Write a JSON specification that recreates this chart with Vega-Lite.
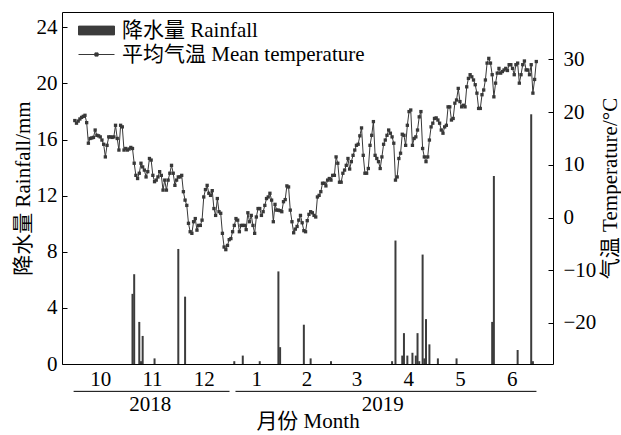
{
"$schema": "https://vega.github.io/schema/vega-lite/v6.json",
"width": 491, "height": 352,
"autosize": {"type": "none"},
"padding": {"left": 62, "top": 12, "right": 68, "bottom": 71},
"config": {
  "view": {"stroke": "#000", "strokeWidth": 1},
  "font": "Liberation Serif, Noto Sans CJK SC",
  "axis": {"labelFont": "Liberation Serif", "labelFontSize": 21, "labelColor": "#000", "titleFont": "Liberation Serif, Noto Sans CJK SC", "titleFontSize": 21, "titleFontWeight": "normal", "titleColor": "#000", "tickColor": "#000", "domain": false, "grid": false}
},
"datasets": {
"temp": [
{"day":0,"temp":18.4},{"day":1,"temp":17.9},{"day":2,"temp":18.3},{"day":3,"temp":18.7},{"day":4,"temp":19.0},{"day":5,"temp":19.2},{"day":6,"temp":19.4},{"day":7,"temp":18.0},{"day":8,"temp":14.1},{"day":9,"temp":15.0},
{"day":10,"temp":15.1},{"day":11,"temp":15.2},{"day":12,"temp":16.6},{"day":13,"temp":15.6},{"day":14,"temp":15.5},{"day":15,"temp":15.3},{"day":16,"temp":14.7},{"day":17,"temp":13.9},{"day":18,"temp":11.5},{"day":19,"temp":13.7},
{"day":20,"temp":15.3},{"day":21,"temp":15.3},{"day":22,"temp":15.2},{"day":23,"temp":15.3},{"day":24,"temp":17.5},{"day":25,"temp":15.0},{"day":26,"temp":12.8},{"day":27,"temp":17.5},{"day":28,"temp":17.2},{"day":29,"temp":12.8},
{"day":30,"temp":13.1},{"day":31,"temp":12.8},{"day":32,"temp":13.0},{"day":33,"temp":13.3},{"day":34,"temp":13.1},{"day":35,"temp":10.3},{"day":36,"temp":8.0},{"day":37,"temp":7.4},{"day":38,"temp":8.4},{"day":39,"temp":10.3},
{"day":40,"temp":9.6},{"day":41,"temp":9.0},{"day":42,"temp":7.7},{"day":43,"temp":8.7},{"day":44,"temp":11.2},{"day":45,"temp":10.9},{"day":46,"temp":8.0},{"day":47,"temp":6.8},{"day":48,"temp":7.1},{"day":49,"temp":7.7},
{"day":50,"temp":8.7},{"day":51,"temp":8.0},{"day":52,"temp":5.2},{"day":53,"temp":7.1},{"day":54,"temp":5.2},{"day":55,"temp":7.1},{"day":56,"temp":8.4},{"day":57,"temp":9.9},{"day":58,"temp":8.4},{"day":59,"temp":6.1},
{"day":60,"temp":7.1},{"day":61,"temp":7.7},{"day":62,"temp":7.7},{"day":63,"temp":8.0},{"day":64,"temp":4.9},{"day":65,"temp":3.3},{"day":66,"temp":2.3},{"day":67,"temp":-1.1},{"day":68,"temp":-2.7},{"day":69,"temp":-3.0},
{"day":70,"temp":-0.8},{"day":71,"temp":-0.2},{"day":72,"temp":-2.4},{"day":73,"temp":-1.5},{"day":74,"temp":-1.5},{"day":75,"temp":-0.5},{"day":76,"temp":3.9},{"day":77,"temp":5.3},{"day":78,"temp":6.1},{"day":79,"temp":4.6},
{"day":80,"temp":4.2},{"day":81,"temp":5.1},{"day":82,"temp":1.7},{"day":83,"temp":0.4},{"day":84,"temp":3.6},{"day":85,"temp":1.1},{"day":86,"temp":0.8},{"day":87,"temp":-3.0},{"day":88,"temp":-5.6},{"day":89,"temp":-6.1},
{"day":90,"temp":-5.3},{"day":91,"temp":-4.2},{"day":92,"temp":-4.0},{"day":93,"temp":-2.7},{"day":94,"temp":-1.5},{"day":95,"temp":-0.2},{"day":96,"temp":-0.5},{"day":97,"temp":-2.7},{"day":98,"temp":-1.5},{"day":99,"temp":-1.5},
{"day":100,"temp":-1.5},{"day":101,"temp":-2.3},{"day":102,"temp":0.9},{"day":103,"temp":-0.8},{"day":104,"temp":0.4},{"day":105,"temp":-1.5},{"day":106,"temp":-3.0},{"day":107,"temp":0.1},{"day":108,"temp":1.7},{"day":109,"temp":1.7},
{"day":110,"temp":0.4},{"day":111,"temp":1.1},{"day":112,"temp":2.3},{"day":113,"temp":3.6},{"day":114,"temp":3.9},{"day":115,"temp":4.6},{"day":116,"temp":3.3},{"day":117,"temp":-0.8},{"day":118,"temp":2.5},{"day":119,"temp":1.4},
{"day":120,"temp":1.4},{"day":121,"temp":1.3},{"day":122,"temp":1.1},{"day":123,"temp":3.0},{"day":124,"temp":3.4},{"day":125,"temp":6.0},{"day":126,"temp":5.8},{"day":127,"temp":1.4},{"day":128,"temp":-0.8},{"day":129,"temp":-2.9},
{"day":130,"temp":-2.2},{"day":131,"temp":-1.7},{"day":132,"temp":-0.5},{"day":133,"temp":0.4},{"day":134,"temp":-1.0},{"day":135,"temp":-2.5},{"day":136,"temp":-2.7},{"day":137,"temp":-0.6},{"day":138,"temp":0.6},{"day":139,"temp":1.1},
{"day":140,"temp":0.9},{"day":141,"temp":0.4},{"day":142,"temp":0.1},{"day":143,"temp":3.9},{"day":144,"temp":4.2},{"day":145,"temp":4.9},{"day":146,"temp":6.5},{"day":147,"temp":6.5},{"day":148,"temp":6.0},{"day":149,"temp":7.1},
{"day":150,"temp":7.4},{"day":151,"temp":7.1},{"day":152,"temp":8.0},{"day":153,"temp":8.0},{"day":154,"temp":11.5},{"day":155,"temp":10.3},{"day":156,"temp":6.7},{"day":157,"temp":6.7},{"day":158,"temp":8.4},{"day":159,"temp":9.0},
{"day":160,"temp":9.9},{"day":161,"temp":11.2},{"day":162,"temp":9.2},{"day":163,"temp":10.6},{"day":164,"temp":11.8},{"day":165,"temp":12.8},{"day":166,"temp":13.7},{"day":167,"temp":13.9},{"day":168,"temp":15.5},{"day":169,"temp":17.0},
{"day":170,"temp":11.8},{"day":171,"temp":8.4},{"day":172,"temp":8.4},{"day":173,"temp":9.3},{"day":174,"temp":13.7},{"day":175,"temp":15.6},{"day":176,"temp":18.2},{"day":177,"temp":11.8},{"day":178,"temp":11.2},{"day":179,"temp":10.6},
{"day":180,"temp":9.3},{"day":181,"temp":11.5},{"day":182,"temp":13.9},{"day":183,"temp":14.7},{"day":184,"temp":15.6},{"day":185,"temp":16.6},{"day":186,"temp":16.0},{"day":187,"temp":15.3},{"day":188,"temp":14.1},{"day":189,"temp":7.1},
{"day":190,"temp":7.7},{"day":191,"temp":11.2},{"day":192,"temp":12.2},{"day":193,"temp":15.8},{"day":194,"temp":15.6},{"day":195,"temp":13.7},{"day":196,"temp":17.5},{"day":197,"temp":20.1},{"day":198,"temp":20.4},{"day":199,"temp":13.7},
{"day":200,"temp":15.0},{"day":201,"temp":15.3},{"day":202,"temp":16.6},{"day":203,"temp":19.1},{"day":204,"temp":20.1},{"day":205,"temp":13.1},{"day":206,"temp":11.5},{"day":207,"temp":10.6},{"day":208,"temp":11.5},{"day":209,"temp":14.7},
{"day":210,"temp":17.2},{"day":211,"temp":17.9},{"day":212,"temp":18.8},{"day":213,"temp":18.9},{"day":214,"temp":18.5},{"day":215,"temp":17.9},{"day":216,"temp":16.6},{"day":217,"temp":16.0},{"day":218,"temp":17.2},{"day":219,"temp":17.5},
{"day":220,"temp":21.0},{"day":221,"temp":21.0},{"day":222,"temp":18.5},{"day":223,"temp":18.8},{"day":224,"temp":21.7},{"day":225,"temp":22.3},{"day":226,"temp":24.5},{"day":227,"temp":22.0},{"day":228,"temp":21.0},{"day":229,"temp":21.3},
{"day":230,"temp":21.0},{"day":231,"temp":24.8},{"day":232,"temp":26.4},{"day":233,"temp":27.1},{"day":234,"temp":26.7},{"day":235,"temp":26.1},{"day":236,"temp":25.2},{"day":237,"temp":23.6},{"day":238,"temp":20.7},{"day":239,"temp":20.7},
{"day":240,"temp":23.3},{"day":241,"temp":24.2},{"day":242,"temp":26.1},{"day":243,"temp":29.3},{"day":244,"temp":30.2},{"day":245,"temp":29.3},{"day":246,"temp":27.1},{"day":247,"temp":22.9},{"day":248,"temp":25.5},{"day":249,"temp":27.4},
{"day":250,"temp":28.3},{"day":251,"temp":27.4},{"day":252,"temp":27.7},{"day":253,"temp":28.0},{"day":254,"temp":28.3},{"day":255,"temp":27.9},{"day":256,"temp":29.0},{"day":257,"temp":29.0},{"day":258,"temp":28.3},{"day":259,"temp":27.1},
{"day":260,"temp":29.0},{"day":261,"temp":29.3},{"day":262,"temp":25.5},{"day":263,"temp":27.1},{"day":264,"temp":29.0},{"day":265,"temp":29.7},{"day":266,"temp":28.0},{"day":267,"temp":28.0},{"day":268,"temp":27.1},{"day":269,"temp":29.0},
{"day":270,"temp":23.6},{"day":271,"temp":26.2},{"day":272,"temp":29.6}
],
"rain": [
{"day":34,"rain":5.0},{"day":35,"rain":6.4},{"day":38,"rain":3.0},{"day":39,"rain":0.2},{"day":40,"rain":2.0},{"day":47,"rain":0.4},{"day":61,"rain":8.2},{"day":65,"rain":4.8},
{"day":94,"rain":0.2},{"day":99,"rain":0.6},{"day":109,"rain":0.2},{"day":120,"rain":6.6},{"day":121,"rain":1.2},{"day":135,"rain":2.8},{"day":139,"rain":0.4},{"day":151,"rain":0.2},
{"day":187,"rain":0.2},{"day":189,"rain":8.8},{"day":193,"rain":0.6},{"day":194,"rain":2.2},{"day":196,"rain":0.6},{"day":199,"rain":0.8},{"day":201,"rain":0.6},{"day":202,"rain":2.2},{"day":203,"rain":0.2},
{"day":205,"rain":7.8},{"day":206,"rain":0.4},{"day":207,"rain":3.2},{"day":209,"rain":1.4},{"day":214,"rain":0.4},{"day":225,"rain":0.4},{"day":246,"rain":3.0},{"day":247,"rain":13.4},{"day":261,"rain":1.0},{"day":269,"rain":17.8},{"day":270,"rain":0.2}
],
"years": [
{"year":"2018","start":-0.7,"end":91.2,"mid":44.5},
{"year":"2019","start":94.7,"end":272.1,"mid":181.5}
]
},
"layer": [
 {"layer": [
   {"data": {"name": "rain"},
    "mark": {"type": "bar", "size": 2, "orient": "vertical"},
    "encoding": {
      "x": {"field": "day", "type": "quantitative", "title": "月份 Month", "scale": {"domain": [-4.6, 278.9], "nice": false, "zero": false},
            "axis": {"values": [15, 45.5, 76, 107, 136.5, 166, 196.5, 227, 257.5], "labelExpr": "['10','11','12','1','2','3','4','5','6'][indexof([15,45.5,76,107,136.5,166,196.5,227,257.5], datum.value)]", "ticks": false, "labelPadding": 4, "titlePadding": 21, "labelFlush": false}},
      "y": {"field": "rain", "type": "quantitative", "title": "降水量 Rainfall/mm", "scale": {"domain": [0, 25.09], "nice": false},
            "axis": {"values": [0, 4, 8, 12, 16, 20, 24], "tickSize": -5, "labelPadding": 10, "titlePadding": 3}},
      "color": {"datum": "降水量 Rainfall", "type": "nominal",
        "scale": {"domain": ["降水量 Rainfall", "平均气温 Mean temperature"], "range": ["#3c3c3c", "#383838"]},
        "legend": {"title": null, "orient": "none", "legendX": 24, "legendY": 8, "padding": 0, "labelFont": "Liberation Serif, Noto Sans CJK SC", "labelFontSize": 21, "labelColor": "#000", "labelLimit": 0, "symbolSize": 64, "labelOffset": 15, "rowPadding": 2,
          "encode": {"symbols": {"update": {
            "shape": {"signal": "datum.value === '降水量 Rainfall' ? 'M-4.5,-1.1H4.5V1.1H-4.5Z' : 'M-4.5,0H4.5M-0.4,-0.4H0.4V0.4H-0.4Z'"},
            "fill": {"value": "#3c3c3c"}, "stroke": {"value": "#3c3c3c"}, "strokeWidth": {"value": 1}, "opacity": {"value": 1}, "fillOpacity": {"value": 1}}}}}}
    }},
   {"data": {"name": "years"},
    "mark": {"type": "rule", "color": "#000", "strokeWidth": 1},
    "encoding": {"x": {"field": "start", "type": "quantitative", "title": "月份 Month"}, "x2": {"field": "end"}, "y": {"datum": -1.95, "title": "降水量 Rainfall/mm"}}},
   {"data": {"name": "years"},
    "mark": {"type": "text", "font": "Liberation Serif", "fontSize": 21, "color": "#000", "align": "center", "baseline": "middle"},
    "encoding": {"x": {"field": "mid", "type": "quantitative", "title": "月份 Month"}, "y": {"datum": -2.95, "title": "降水量 Rainfall/mm"}, "text": {"field": "year"}}}
 ]},
 {"data": {"name": "temp"},
  "mark": {"type": "line", "strokeWidth": 1, "point": {"shape": "square", "size": 11, "filled": true}},
  "encoding": {
    "x": {"field": "day", "type": "quantitative", "title": "月份 Month"},
    "y": {"field": "temp", "type": "quantitative", "title": "气温 Temperature/°C", "scale": {"domain": [-27.8, 39.0], "nice": false, "zero": false},
          "axis": {"orient": "right", "values": [-20, -10, 0, 10, 20, 30], "tickSize": -5, "labelPadding": 15, "titlePadding": 4, "titleAngle": -90, "titleBaseline": "top"}},
    "color": {"datum": "平均气温 Mean temperature", "type": "nominal"}
  }}
],
"resolve": {"scale": {"y": "independent"}}
}
